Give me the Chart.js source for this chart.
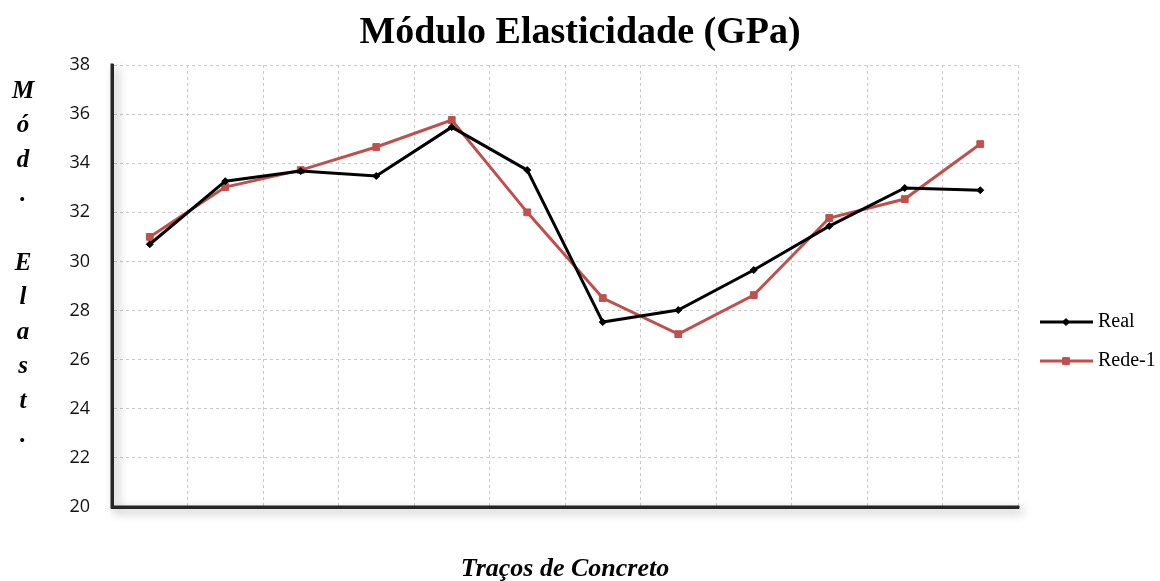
<!DOCTYPE html>
<html><head><meta charset="utf-8">
<script src="https://cdn.jsdelivr.net/npm/chart.js@4/dist/chart.umd.min.js"></script>
<style>html,body{margin:0;padding:0;background:#fff}#wrap{width:1160px;height:581px;position:relative}</style>
</head><body><div id="wrap"><canvas id="c" width="1160" height="581"></canvas></div>
<script>
const categories = ['1','2','3','4','5','6','7','8','9','10','11','12'];
const realValues = [30.7, 33.27, 33.68, 33.48, 35.47, 33.72, 27.53, 28.02, 29.65, 31.44, 32.99, 32.9];
const rede1Values = [31.0, 33.03, 33.72, 34.66, 35.76, 32.0, 28.51, 27.04, 28.63, 31.77, 32.54, 34.78];
const yTicks = [20, 22, 24, 26, 28, 30, 32, 34, 36, 38];
const seriesNames = ['Real', 'Rede-1'];
const titleText = 'Módulo Elasticidade (GPa)';
const yTitleText = 'Mód. Elast.';
const xTitleText = 'Traços de Concreto';

const SERIF = '"Liberation Serif", "Times New Roman", serif';
const RED = '#C0504D';

const axisShadow = {
  id: 'axisShadow',
  beforeDatasetsDraw(chart) {
    const {ctx, chartArea: a} = chart;
    ctx.save();
    ctx.shadowColor = 'rgba(0,0,0,0.38)';
    ctx.shadowBlur = 10;
    ctx.shadowOffsetX = 4;
    ctx.shadowOffsetY = 4;
    ctx.strokeStyle = '#262626';
    ctx.lineWidth = 3;
    ctx.lineCap = 'square';
    ctx.beginPath();
    ctx.moveTo(a.left, a.top);
    ctx.lineTo(a.left, a.bottom);
    ctx.lineTo(a.right, a.bottom);
    ctx.stroke();
    ctx.restore();
  }
};

const extras = {
  id: 'extras',
  afterDraw(chart) {
    const ctx = chart.ctx;
    ctx.save();
    // vertical stacked y title
    ctx.fillStyle = '#000';
    ctx.font = 'italic bold 25px ' + SERIF;
    ctx.textAlign = 'center';
    ctx.textBaseline = 'alphabetic';
    const chars = Array.from(yTitleText);
    chars.forEach((ch, i) => { if (ch !== ' ') ctx.fillText(ch, 23, 98 + 34.4 * i); });
    // legend
    const items = [
      {label: seriesNames[0], color: '#000', style: 'rectRot', r: 3.5, y: 322},
      {label: seriesNames[1], color: RED, style: 'rect', r: 4.8, y: 361}
    ];
    items.forEach(it => {
      ctx.strokeStyle = it.color;
      ctx.fillStyle = it.color;
      ctx.lineWidth = 3;
      ctx.beginPath();
      ctx.moveTo(1040, it.y);
      ctx.lineTo(1093, it.y);
      ctx.stroke();
      ctx.lineWidth = 1;
      Chart.helpers.drawPoint(ctx, {pointStyle: it.style, radius: it.r, borderWidth: 1, rotation: 0}, 1066, it.y);
      ctx.fillStyle = '#000';
      ctx.font = '20px ' + SERIF;
      ctx.textAlign = 'left';
      ctx.textBaseline = 'middle';
      ctx.fillText(it.label, 1098, it.y);
    });
    ctx.restore();
  }
};

new Chart(document.getElementById('c'), {
  type: 'line',
  data: {
    labels: categories,
    datasets: [
      {label: seriesNames[0], data: realValues, borderColor: '#000', backgroundColor: '#000',
       borderWidth: 3, pointStyle: 'rectRot', pointRadius: 3.5, pointBorderWidth: 1, tension: 0},
      {label: seriesNames[1], data: rede1Values, borderColor: RED, backgroundColor: RED,
       borderWidth: 3, pointStyle: 'rect', pointRadius: 4.8, pointBorderWidth: 1, tension: 0}
    ]
  },
  options: {
    responsive: false,
    devicePixelRatio: 1,
    animation: false,
    events: [],
    layout: {padding: 0},
    plugins: {
      legend: {display: false},
      tooltip: {enabled: false},
      title: {
        display: true, text: titleText, color: '#000',
        font: {family: SERIF, size: 38, weight: 'bold', lineHeight: 1.2},
        padding: {top: 10, bottom: 9.4}
      }
    },
    scales: {
      x: {
        type: 'category', offset: true,
        grid: {offset: true, color: '#c8c8c8', lineWidth: 1, drawTicks: false},
        border: {display: true, color: '#262626', width: 3, dash: [3, 3]},
        ticks: {display: false},
        title: {display: true, text: xTitleText, color: '#000',
          font: {family: SERIF, size: 26, weight: 'bold', style: 'italic', lineHeight: 1.2},
          padding: {top: 45, bottom: -4}},
        afterFit(s) { s.height = 74; }
      },
      y: {
        min: 20, max: 38,
        afterBuildTicks(s) { s.ticks = yTicks.map(v => ({value: v})); },
        grid: {color: '#c8c8c8', lineWidth: 1, drawTicks: false},
        border: {display: true, color: '#262626', width: 3, dash: [3, 3]},
        ticks: {color: '#111', padding: 22, font: {family: '"Open Sans", sans-serif', size: 18}},
        afterFit(s) { s.width = 112; }
      },
      yr: {
        position: 'right', display: true,
        grid: {drawOnChartArea: false, drawTicks: false},
        border: {display: false},
        ticks: {display: false},
        afterFit(s) { s.width = 142; }
      }
    }
  },
  plugins: [axisShadow, extras]
});
</script></body></html>
